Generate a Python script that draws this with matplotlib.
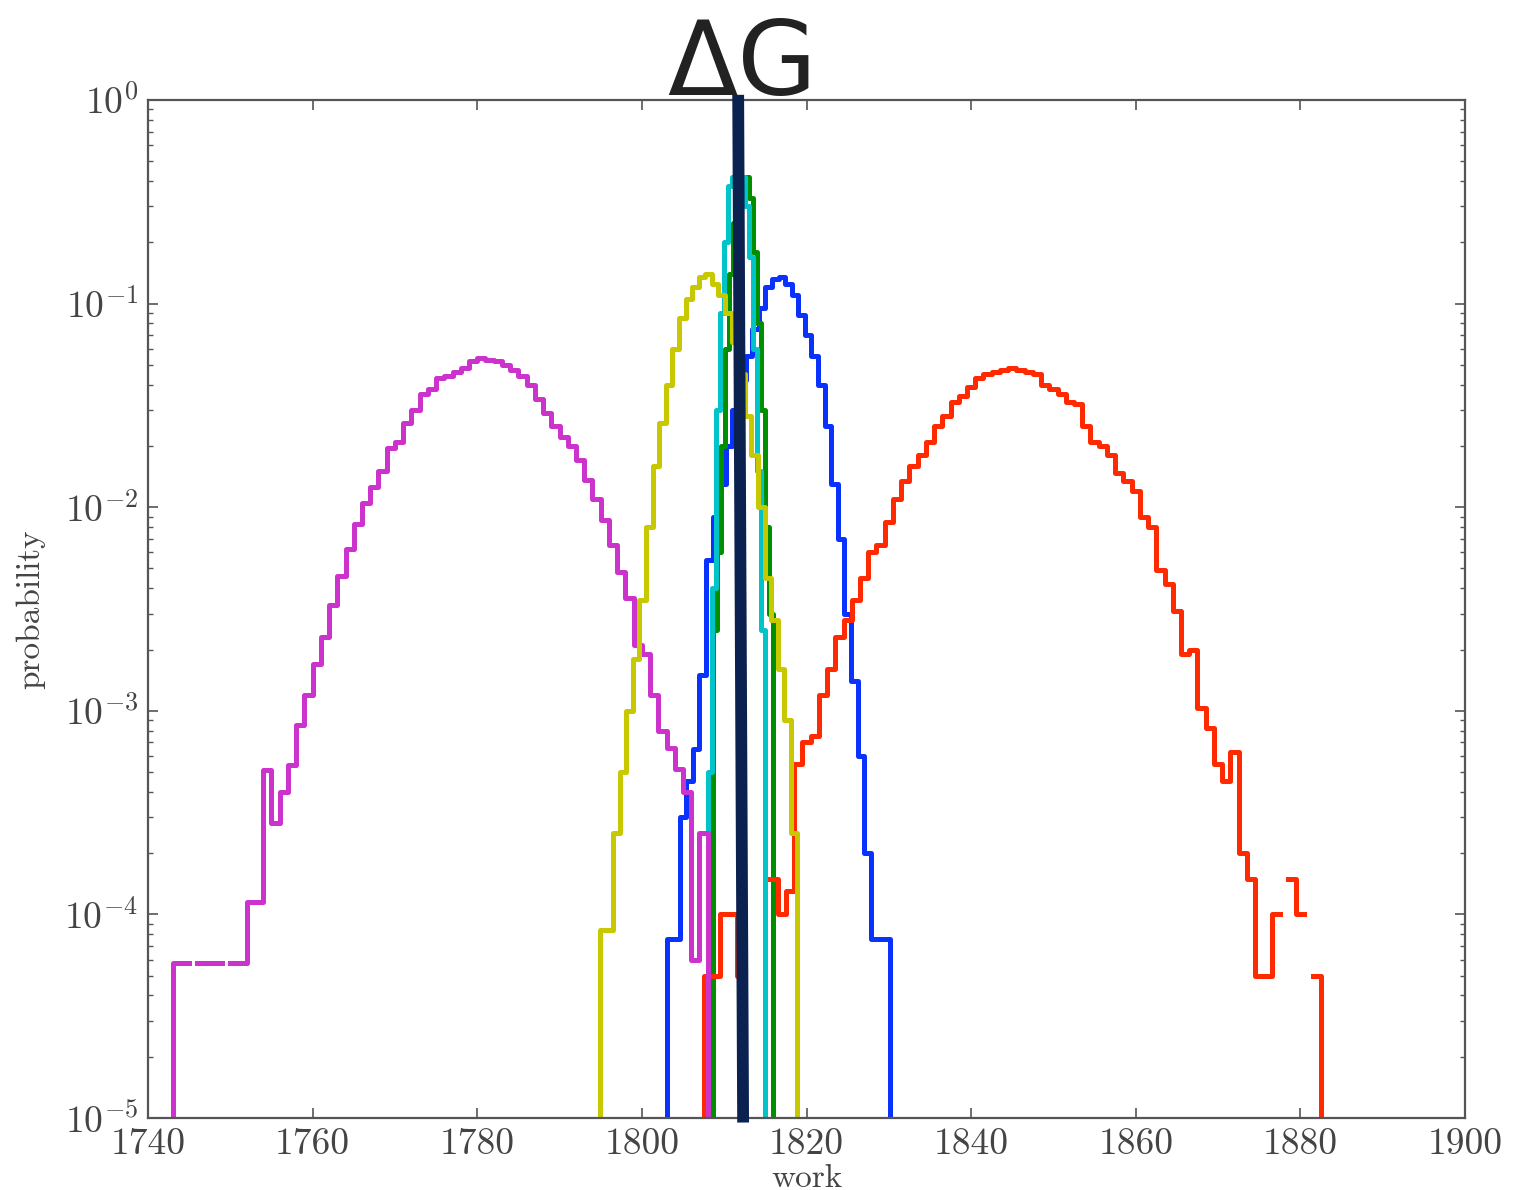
import numpy as np
import matplotlib
matplotlib.use("Agg")
import matplotlib.pyplot as plt

plt.rcParams['mathtext.fontset'] = 'cm'

# --- data: step histograms of work -----------------------------------------
# each series: first bin edge, bin width, probabilities (nan = empty bin)
blue_start, blue_width = 1803.0, 0.8
blue_p = [7.6e-5, 7.6e-5, 3.0e-4, 4.5e-4, 6.5e-4, 1.5e-3, 5.5e-3, 9e-3, 0.013,
          0.020, 0.030, 0.042, 0.055, 0.075, 0.095, 0.12, 0.132, 0.135, 0.125,
          0.11, 0.088, 0.07, 0.055, 0.040, 0.025, 0.013, 7e-3, 3e-3, 1.4e-3,
          6e-4, 2e-4, 7.6e-5, 7.6e-5, 7.6e-5]

green_start, green_width = 1808.7, 0.48
green_p = [2.5e-3, 6e-3, 0.02, 0.06, 0.14, 0.25, 0.35, 0.40, 0.42, 0.33, 0.18,
           0.08, 0.03, 8e-3, 3e-3]

red_start, red_width = 1807.5, 1.0
red_p = [5e-5, 5e-5, 1.0e-4, 1.0e-4, 5e-5, np.nan, np.nan, np.nan, 1.5e-4,
         1.0e-4, 1.3e-4, 5.5e-4, 7.0e-4, 7.5e-4, 1.2e-3, 1.6e-3, 2.3e-3, 2.8e-3,
         3.5e-3, 4.5e-3, 6.0e-3, 6.5e-3, 8.5e-3, 0.011, 0.0135, 0.016, 0.018,
         0.021, 0.025, 0.028, 0.033, 0.035, 0.039, 0.043, 0.045, 0.046, 0.047,
         0.048, 0.047, 0.046, 0.045, 0.040, 0.038, 0.036, 0.033, 0.032, 0.025,
         0.021, 0.020, 0.018, 0.0147, 0.0135, 0.012, 0.009, 0.008, 0.0049,
         0.0042, 0.0031, 0.0019, 0.0020, 1.03e-3, 8.2e-4, 5.5e-4, 4.5e-4,
         6.3e-4, 2.0e-4, 1.5e-4, 5e-5, 5e-5, 1.0e-4, np.nan, 1.5e-4, 1.0e-4,
         np.nan, 5e-5]

cyan_start, cyan_width = 1808.0, 0.5
cyan_p = [5e-4, 4e-3, 0.03, 0.09, 0.2, 0.38, 0.42, 0.45, 0.42, 0.3, 0.17, 0.06,
          0.015, 2.5e-3]

magenta_start, magenta_width = 1743.0, 1.0
magenta_p = [5.8e-5, 5.8e-5, np.nan, 5.8e-5, 5.8e-5, 5.8e-5, np.nan, 5.8e-5,
             5.8e-5, 1.15e-4, 1.15e-4, 5.1e-4, 2.8e-4, 4.0e-4, 5.4e-4, 8.5e-4,
             1.2e-3, 1.7e-3, 2.3e-3, 3.3e-3, 4.6e-3, 6.2e-3, 8.3e-3, 0.0105,
             0.0125, 0.015, 0.0195, 0.021, 0.026, 0.030, 0.036, 0.038, 0.043,
             0.044, 0.046, 0.048, 0.052, 0.054, 0.053, 0.052, 0.050, 0.047,
             0.044, 0.040, 0.034, 0.029, 0.025, 0.022, 0.020, 0.017, 0.0136,
             0.011, 0.0087, 0.0065, 0.0048, 0.0036, 0.0021, 0.0019, 0.0012,
             8e-4, 6.6e-4, 5.2e-4, 4.0e-4, 6e-5, 2.5e-4]

yellow_start, yellow_width = 1794.9, 0.8
yellow_p = [8.4e-5, 8.4e-5, 2.5e-4, 5e-4, 1.0e-3, 1.8e-3, 3.5e-3, 8e-3, 0.016,
            0.026, 0.040, 0.060, 0.085, 0.105, 0.12, 0.135, 0.14, 0.125, 0.11,
            0.09, 0.065, 0.045, 0.028, 0.018, 0.010, 4.5e-3, 2.8e-3, 1.6e-3,
            9e-4, 2.5e-4]

# free energy estimate (slightly tilted marker line)
dg_x = [1811.7, 1812.3]
dg_y = [1.06, 9.5e-6]

xticks = [1740, 1760, 1780, 1800, 1820, 1840, 1860, 1880, 1900]
yticks = [1e-5, 1e-4, 1e-3, 1e-2, 1e-1, 1e0]
ytick_labels = [r'$10^{-5}$', r'$10^{-4}$', r'$10^{-3}$', r'$10^{-2}$',
                r'$10^{-1}$', r'$10^{0}$']


def step_xy(start, width, vals, floor=1e-7):
    vals = np.asarray(vals, dtype=float)
    edges = start + width * np.arange(len(vals) + 1)
    x = np.repeat(edges, 2)
    y = np.concatenate([[floor], np.repeat(vals, 2), [floor]])
    return x, y


fig = plt.figure(figsize=(15.19, 11.90), dpi=100)
ax = fig.add_axes([148 / 1519, 1 - 1118 / 1190, (1465 - 148) / 1519, (1118 - 100) / 1190])

series = [
    (blue_start, blue_width, blue_p, '#0a32ff'),
    (green_start, green_width, green_p, '#008f00'),
    (red_start, red_width, red_p, '#ff2a00'),
    (cyan_start, cyan_width, cyan_p, '#00c4c8'),
    (magenta_start, magenta_width, magenta_p, '#cc33cc'),
    (yellow_start, yellow_width, yellow_p, '#c8c800'),
]
for start, width, vals, col in series:
    x, y = step_xy(start, width, vals)
    ax.plot(x, y, color=col, lw=3.6)

ax.plot(dg_x, dg_y, color='#0b2150', lw=8.5, solid_capstyle='butt', clip_on=False, zorder=5)
ax.text(1812.2, 1.005, 'ΔG', transform=ax.get_xaxis_transform(), ha='center',
        va='baseline', fontsize=74, color='#222222', family='DejaVu Sans')

ax.set_yscale('log')
ax.set_xlim(1740, 1900)
ax.set_ylim(1e-5, 1)
ax.set_xticks(xticks)
ax.set_xticklabels([str(t) for t in xticks], family='cmr10')
ax.set_yticks(yticks, ytick_labels)

ax.tick_params(which='both', direction='in', top=True, right=True, color='#555555',
               labelcolor='#444444', labelsize=27, pad=7)
ax.tick_params(which='major', length=7, width=1.2)
ax.tick_params(which='minor', length=3.5, width=1.0)
for s in ax.spines.values():
    s.set_color('#555555')
    s.set_linewidth(1.6)

ax.set_xlabel('work', family='cmr10', fontsize=24, color='#444444', labelpad=2)
ax.set_ylabel('probability', family='cmr10', fontsize=24, color='#444444', labelpad=14)

fig.savefig('out.png', dpi=100)
